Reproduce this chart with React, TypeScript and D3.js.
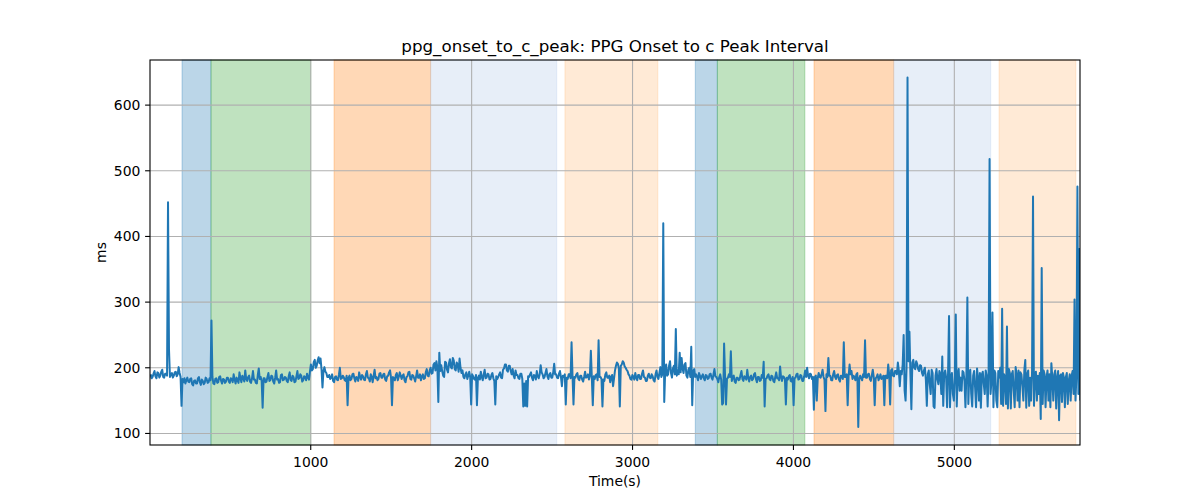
import React, { useEffect, useRef } from 'react';
import * as d3 from 'd3';

// Sample timing of the series (seconds)
const T0 = 5;
const STEP = 6;

// ppg_onset_to_c_peak values (ms), one per STEP seconds, 20 per row (= 120 s)
const values: number[] = [
  190, 184, 186, 191, 195, 187, 184, 193, 192, 185, 188, 194, 197, 186, 185, 191, 191, 188, 452, 228,
  186, 190, 192, 185, 188, 193, 194, 187, 190, 201, 192, 186, 142, 183, 178, 184, 176, 181, 185, 179,
  178, 183, 184, 175, 173, 180, 181, 176, 176, 184, 186, 178, 174, 182, 180, 175, 177, 185, 183, 177,
  178, 184, 181, 272, 186, 176, 175, 183, 184, 177, 178, 186, 187, 180, 176, 183, 182, 177, 179, 185,
  185, 179, 177, 184, 183, 178, 190, 182, 176, 185, 181, 177, 193, 184, 178, 188, 184, 179, 196, 183,
  180, 186, 188, 179, 177, 184, 195, 182, 182, 177, 176, 189, 199, 183, 186, 180, 139, 184, 184, 178,
  179, 186, 192, 180, 181, 188, 187, 179, 176, 185, 196, 182, 183, 177, 178, 189, 190, 181, 182, 186,
  185, 180, 178, 187, 193, 181, 180, 188, 186, 178, 179, 187, 195, 183, 184, 190, 188, 179, 181, 187,
  186, 181, 191, 185, 182, 194, 205, 196, 198, 209, 212, 200, 203, 211, 216, 207, 214, 198, 170, 195,
  201, 194, 192, 186, 186, 189, 183, 185, 190, 180, 178, 186, 187, 182, 181, 189, 200, 183, 184, 188,
  186, 181, 180, 188, 143, 185, 188, 181, 183, 190, 191, 184, 179, 186, 185, 180, 193, 186, 182, 189,
  187, 182, 181, 190, 195, 185, 184, 179, 190, 186, 178, 188, 197, 184, 186, 181, 183, 191, 192, 185,
  185, 190, 191, 182, 180, 187, 188, 193, 196, 185, 143, 186, 184, 181, 189, 192, 181, 186, 193, 188,
  183, 188, 190, 181, 178, 186, 187, 193, 194, 183, 182, 189, 188, 184, 179, 187, 196, 185, 185, 190,
  181, 187, 190, 183, 184, 193, 198, 188, 187, 196, 200, 191, 192, 205, 207, 196, 210, 201, 148, 223,
  195, 204, 195, 188, 186, 209, 208, 197, 193, 207, 213, 201, 199, 215, 211, 198, 196, 208, 205, 194,
  214, 200, 192, 196, 186, 184, 190, 193, 183, 188, 194, 186, 144, 190, 187, 183, 182, 189, 143, 185,
  188, 182, 194, 186, 181, 190, 197, 184, 185, 191, 190, 182, 183, 189, 192, 184, 180, 144, 187, 183,
  186, 190, 193, 185, 184, 197, 199, 205, 205, 196, 194, 203, 203, 195, 190, 198, 188, 184, 196, 189,
  189, 184, 183, 191, 191, 183, 141, 176, 142, 180, 141, 187, 186, 190, 193, 185, 181, 189, 188, 182,
  195, 187, 184, 190, 204, 193, 190, 184, 186, 192, 198, 187, 183, 190, 192, 185, 185, 193, 206, 190,
  190, 185, 184, 191, 195, 186, 172, 188, 186, 190, 144, 185, 183, 190, 190, 184, 239, 188, 144, 186,
  185, 190, 192, 183, 181, 188, 188, 182, 179, 186, 194, 185, 186, 190, 182, 188, 226, 185, 143, 187,
  183, 189, 190, 181, 242, 186, 186, 183, 141, 182, 180, 190, 193, 185, 185, 188, 178, 186, 189, 172,
  184, 196, 203, 208, 206, 199, 141, 203, 205, 210, 208, 202, 200, 197, 195, 190, 188, 183, 182, 189,
  186, 182, 192, 185, 181, 189, 189, 183, 183, 191, 196, 186, 185, 180, 180, 188, 191, 185, 184, 190,
  187, 181, 179, 190, 196, 186, 183, 192, 201, 186, 190, 420, 148, 196, 205, 188, 190, 203, 210, 192,
  185, 199, 203, 190, 259, 188, 196, 190, 223, 193, 215, 199, 192, 205, 207, 188, 185, 197, 200, 186,
  232, 143, 195, 198, 186, 190, 186, 181, 192, 188, 183, 187, 190, 184, 181, 189, 188, 183, 184, 190,
  191, 185, 182, 190, 198, 187, 186, 183, 178, 186, 190, 182, 144, 146, 237, 188, 144, 183, 185, 190,
  186, 225, 180, 186, 188, 179, 177, 185, 185, 181, 182, 189, 195, 183, 180, 187, 186, 182, 197, 185,
  179, 186, 188, 181, 183, 190, 192, 183, 178, 186, 186, 180, 181, 189, 185, 209, 141, 183, 184, 188,
  190, 183, 181, 188, 187, 180, 178, 186, 193, 184, 184, 181, 202, 186, 180, 187, 186, 183, 144, 185,
  182, 187, 189, 180, 179, 186, 143, 184, 185, 190, 191, 182, 183, 189, 188, 180, 180, 187, 196, 186,
  200, 188, 184, 191, 190, 183, 186, 136, 186, 188, 150, 184, 192, 186, 185, 190, 197, 186, 182, 134,
  190, 186, 215, 188, 188, 181, 181, 190, 195, 186, 183, 189, 190, 182, 179, 188, 187, 183, 239, 186,
  186, 190, 143, 188, 205, 190, 195, 183, 188, 186, 181, 190, 192, 110, 184, 188, 184, 181, 190, 186,
  242, 185, 185, 190, 191, 183, 180, 188, 197, 186, 143, 184, 186, 190, 181, 185, 190, 183, 184, 188,
  143, 188, 188, 184, 205, 190, 144, 196, 198, 188, 187, 195, 195, 190, 208, 196, 172, 195, 190, 205,
  250, 165, 150, 200, 642, 210, 255, 190, 137, 208, 212, 200, 198, 210, 206, 198, 195, 204, 203, 192,
  188, 196, 200, 182, 142, 190, 196, 175, 160, 197, 192, 141, 139, 188, 198, 182, 175, 195, 190, 160,
  217, 142, 190, 196, 185, 140, 192, 279, 140, 185, 192, 160, 150, 188, 281, 141, 190, 198, 165, 185,
  165, 195, 193, 180, 140, 190, 307, 145, 192, 197, 160, 141, 188, 195, 170, 140, 199, 185, 150, 192,
  139, 190, 194, 175, 160, 196, 188, 141, 192, 518, 160, 180, 284, 140, 196, 192, 150, 140, 195, 185,
  200, 145, 290, 142, 190, 185, 145, 263, 138, 198, 192, 138, 190, 195, 165, 140, 201, 190, 150, 196,
  140, 193, 190, 172, 150, 196, 212, 139, 190, 196, 142, 185, 150, 194, 461, 142, 190, 194, 150, 188,
  160, 192, 122, 352, 145, 196, 190, 140, 185, 196, 150, 190, 140, 207, 185, 150, 190, 196, 138, 185,
  195, 120, 188, 190, 148, 192, 185, 140, 186, 192, 145, 180, 190, 150, 188, 195, 160, 304, 150, 190,
  476, 160, 381, 150,
];

// Shaded phases: start, end (s), colour
const spanStarts = [200, 380, 1145, 1745, 2580, 3390, 3527, 4128, 4623, 5278];
const spanEnds = [380, 1000, 1745, 2529, 3157, 3527, 4071, 4623, 5226, 5755];
const spanColors = ['#1f77b4', '#2ca02c', '#ff7f0e', '#aec7e8', '#ffbb78',
  '#1f77b4', '#2ca02c', '#ff7f0e', '#aec7e8', '#ffbb78'];

const xTicks = [1000, 2000, 3000, 4000, 5000];
const yTicks = [100, 200, 300, 400, 500, 600];

const W = 1200;
const H = 500;
const margin = { left: 150, right: 120, top: 60, bottom: 55 };
const FONT = '"DejaVu Sans", sans-serif';

export default function App() {
  const svgRef = useRef<SVGSVGElement>(null);

  useEffect(() => {
    document.body.style.margin = '0';
    const svg = d3.select(svgRef.current);
    svg.selectAll('*').remove();

    const iw = W - margin.left - margin.right;
    const ih = H - margin.top - margin.bottom;

    const x = d3.scaleLinear().domain([1, 5781]).range([0, iw]);
    const y = d3.scaleLinear().domain([82.4, 668.7]).range([ih, 0]);

    const g = svg.append('g').attr('transform', `translate(${margin.left},${margin.top})`);

    svg.append('defs').append('clipPath').attr('id', 'plot-clip')
      .append('rect').attr('width', iw).attr('height', ih);

    // phase spans
    g.selectAll('.span')
      .data(spanStarts.map((s, i) => ({ s, e: spanEnds[i], c: spanColors[i] })))
      .enter()
      .append('rect')
      .attr('class', 'span')
      .attr('x', d => x(d.s))
      .attr('y', 0)
      .attr('width', d => x(d.e) - x(d.s))
      .attr('height', ih)
      .attr('fill', d => d.c)
      .attr('fill-opacity', 0.3)
      .attr('stroke', d => d.c)
      .attr('stroke-opacity', 0.3)
      .attr('stroke-width', 1);

    // grid
    g.selectAll('.xgrid').data(xTicks).enter().append('line')
      .attr('x1', d => x(d)).attr('x2', d => x(d))
      .attr('y1', 0).attr('y2', ih)
      .attr('stroke', '#b0b0b0').attr('stroke-width', 1.1);
    g.selectAll('.ygrid').data(yTicks).enter().append('line')
      .attr('x1', 0).attr('x2', iw)
      .attr('y1', d => y(d)).attr('y2', d => y(d))
      .attr('stroke', '#b0b0b0').attr('stroke-width', 1.1);

    // series
    const line = d3.line<number>()
      .x((_, i) => x(T0 + i * STEP))
      .y(d => y(d));
    g.append('path')
      .datum(values)
      .attr('clip-path', 'url(#plot-clip)')
      .attr('d', line)
      .attr('fill', 'none')
      .attr('stroke', '#1f77b4')
      .attr('stroke-width', 2)
      .attr('stroke-linejoin', 'round');

    // spines
    g.append('rect')
      .attr('width', iw).attr('height', ih)
      .attr('fill', 'none').attr('stroke', '#000').attr('stroke-width', 1.1);

    // x axis
    const xa = g.append('g').attr('transform', `translate(0,${ih})`);
    xa.selectAll('line').data(xTicks).enter().append('line')
      .attr('x1', d => x(d)).attr('x2', d => x(d))
      .attr('y1', 0).attr('y2', 4.9)
      .attr('stroke', '#000').attr('stroke-width', 1.1);
    xa.selectAll('text').data(xTicks).enter().append('text')
      .attr('x', d => x(d)).attr('y', 21.5)
      .attr('text-anchor', 'middle')
      .style('font-family', FONT).style('font-size', '13.9px')
      .text(d => String(d));

    // y axis
    const ya = g.append('g');
    ya.selectAll('line').data(yTicks).enter().append('line')
      .attr('x1', -4.9).attr('x2', 0)
      .attr('y1', d => y(d)).attr('y2', d => y(d))
      .attr('stroke', '#000').attr('stroke-width', 1.1);
    ya.selectAll('text').data(yTicks).enter().append('text')
      .attr('x', -9.7).attr('y', d => y(d))
      .attr('dy', '0.35em')
      .attr('text-anchor', 'end')
      .style('font-family', FONT).style('font-size', '13.9px')
      .text(d => String(d));

    // labels
    svg.append('text')
      .attr('x', margin.left + iw / 2).attr('y', 51.7)
      .attr('text-anchor', 'middle')
      .style('font-family', FONT).style('font-size', '16.7px')
      .text('ppg_onset_to_c_peak: PPG Onset to c Peak Interval');
    svg.append('text')
      .attr('x', margin.left + iw / 2).attr('y', 486)
      .attr('text-anchor', 'middle')
      .style('font-family', FONT).style('font-size', '13.9px')
      .text('Time(s)');
    svg.append('text')
      .attr('transform', `translate(106,${margin.top + ih / 2}) rotate(-90)`)
      .attr('text-anchor', 'middle')
      .style('font-family', FONT).style('font-size', '13.9px')
      .text('ms');
  }, []);

  return <svg ref={svgRef} width={W} height={H} style={{ display: 'block', background: '#fff' }} />;
}
